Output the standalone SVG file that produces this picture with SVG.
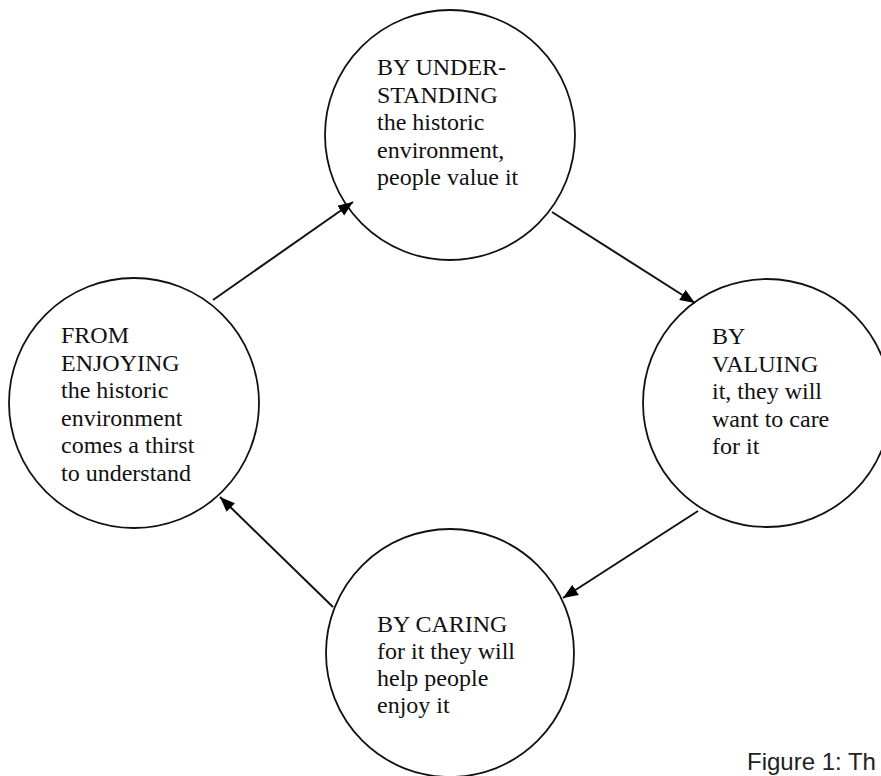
<svg xmlns="http://www.w3.org/2000/svg" width="881" height="776" viewBox="0 0 881 776">
<style>
.node circle{fill:#fff;stroke:#111;stroke-width:1.8}
.t{font-family:"Liberation Serif","Times New Roman",serif;font-size:24px;fill:#111}
.conn line{stroke:#111;stroke-width:2}
.cap{font-family:"Liberation Sans",Arial,sans-serif;font-size:24px;fill:#222}
</style>
<defs>
<marker id="ah" markerUnits="userSpaceOnUse" markerWidth="16" markerHeight="14" refX="15" refY="6" orient="auto">
<path d="M0,0 L15,6 L0,12 Z" fill="#000"/>
</marker>
</defs>
<rect width="881" height="776" fill="#fff"/>
<g id="node-understanding" class="node">
<circle cx="450" cy="135" r="125"/>
<text class="t"><tspan x="377" y="75">BY UNDER-</tspan><tspan x="377" y="102.5">STANDING</tspan><tspan x="377" y="130">the historic</tspan><tspan x="377" y="157.5">environment,</tspan><tspan x="377" y="185">people value it</tspan></text>
</g>
<g id="node-enjoying" class="node">
<circle cx="134" cy="403" r="125"/>
<text class="t"><tspan x="61" y="343">FROM</tspan><tspan x="61" y="370.5">ENJOYING</tspan><tspan x="61" y="398">the historic</tspan><tspan x="61" y="425.5">environment</tspan><tspan x="61" y="453">comes a thirst</tspan><tspan x="61" y="480.5">to understand</tspan></text>
</g>
<g id="node-valuing" class="node">
<circle cx="767" cy="403" r="124"/>
<text class="t"><tspan x="712" y="344">BY</tspan><tspan x="712" y="371.5">VALUING</tspan><tspan x="712" y="399">it, they will</tspan><tspan x="712" y="426.5">want to care</tspan><tspan x="712" y="454">for it</tspan></text>
</g>
<g id="node-caring" class="node">
<circle cx="450" cy="653" r="124"/>
<text class="t"><tspan x="377" y="632">BY CARING</tspan><tspan x="377" y="659">for it they will</tspan><tspan x="377" y="686">help people</tspan><tspan x="377" y="713">enjoy it</tspan></text>
</g>
<g id="connectors" class="conn">
<line x1="213" y1="300" x2="353" y2="202" marker-end="url(#ah)"/>
<line x1="552" y1="212" x2="695" y2="303" marker-end="url(#ah)"/>
<line x1="698" y1="511" x2="563" y2="598" marker-end="url(#ah)"/>
<line x1="333" y1="607" x2="220" y2="497" marker-end="url(#ah)"/>
</g>
<text class="cap" x="747" y="770">Figure 1: Th</text>
</svg>
